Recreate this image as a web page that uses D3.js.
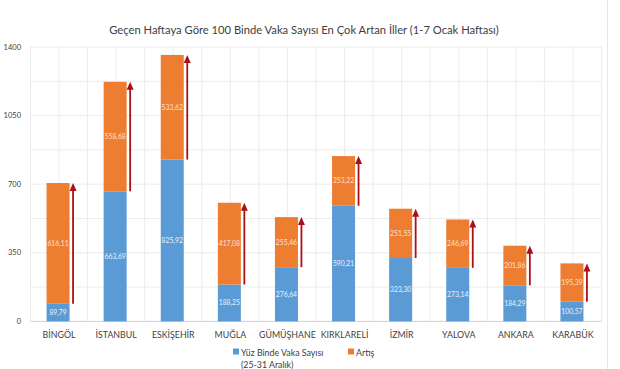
<!DOCTYPE html>
<html>
<head>
<meta charset="utf-8">
<script src="https://cdn.jsdelivr.net/npm/d3@7"></script>
<style>
  body { margin: 0; background: #fff; }
  text { font-family: Lato, "Open Sans", sans-serif; }
</style>
</head>
<body>
<div id="chart"></div>
<script>
const cities = ["BİNGÖL", "İSTANBUL", "ESKİŞEHİR", "MUĞLA", "GÜMÜŞHANE", "KIRKLARELİ", "İZMİR", "YALOVA", "ANKARA", "KARABÜK"];
const baseCases = [89.79, 663.69, 825.92, 188.25, 276.64, 590.21, 323.30, 273.14, 184.29, 100.57];
const increase = [616.11, 558.68, 533.62, 417.08, 255.46, 253.22, 251.55, 246.69, 201.86, 195.39];
const yTicks = [0, 350, 700, 1050, 1400];
const yGrid = [175, 525, 875, 1225];

const width = 620;
const height = 369;
const marginTop = 47;
const marginRight = 18.5;
const marginBottom = 47.6;
const marginLeft = 30.5;

const fmt = v => v.toFixed(2).replace(".", ",");

const x = d3.scaleBand(cities, [marginLeft, width - marginRight]).padding(0);
const y = d3.scaleLinear([0, 1400], [height - marginBottom, marginTop]);

const svg = d3.create("svg")
  .attr("width", width)
  .attr("height", height)
  .attr("viewBox", [0, 0, width, height]);

d3.select("#chart").append(() => svg.node());

// chart area right border
svg.append("line")
  .attr("x1", 607.5).attr("x2", 607.5)
  .attr("y1", 0).attr("y2", height)
  .attr("stroke", "#e6e6e6");

// title
svg.append("text")
  .attr("x", 304)
  .attr("y", 34)
  .attr("text-anchor", "middle")
  .attr("font-size", 11.2)
  .attr("fill", "#404040")
  .text("Geçen Haftaya Göre 100 Binde Vaka Sayısı En Çok Artan İller (1-7 Ocak Haftası)");

// grid lines
const vLines = cities.flatMap(c => [x(c), x(c) + x.bandwidth() / 2]).concat([width - marginRight]);
svg.append("g")
  .selectAll("line")
  .data(vLines)
  .join("line")
  .attr("x1", d => d).attr("x2", d => d)
  .attr("y1", y(1400)).attr("y2", y(0))
  .attr("stroke", "#ececec");

svg.append("g")
  .selectAll("line")
  .data(yTicks.concat(yGrid))
  .join("line")
  .attr("x1", marginLeft).attr("x2", width - marginRight)
  .attr("y1", d => y(d)).attr("y2", d => y(d))
  .attr("stroke", d => d === 0 ? "#d0d0d0" : "#ececec");

// y axis labels
svg.append("g")
  .selectAll("text")
  .data(yTicks)
  .join("text")
  .attr("x", 21)
  .attr("y", d => y(d) + 2.5)
  .attr("text-anchor", "end")
  .attr("font-size", 7.5)
  .attr("fill", "#404040")
  .text(d => d);

const barW = 23;
const cx = c => x(c) + x.bandwidth() / 2 - 1;

const rows = cities.map((c, i) => ({ city: c, base: baseCases[i], inc: increase[i] }));

// blue segment
svg.append("g")
  .attr("fill", "#5b9bd5")
  .selectAll("rect")
  .data(rows)
  .join("rect")
  .attr("x", d => cx(d.city) - barW / 2)
  .attr("width", barW)
  .attr("y", d => y(d.base))
  .attr("height", d => y(0) - y(d.base));

// orange segment
svg.append("g")
  .attr("fill", "#ed7d31")
  .selectAll("rect")
  .data(rows)
  .join("rect")
  .attr("x", d => cx(d.city) - barW / 2)
  .attr("width", barW)
  .attr("y", d => y(d.base + d.inc))
  .attr("height", d => y(d.base) - y(d.base + d.inc));

// value labels
svg.append("g")
  .attr("font-size", 6.8)
  .attr("text-anchor", "middle")
  .selectAll("text")
  .data(rows.flatMap(d => [
    { city: d.city, mid: d.base / 2, v: d.base, fill: "#e8f0fa" },
    { city: d.city, mid: d.base + d.inc / 2, v: d.inc, fill: "#fbe2cf" }
  ]))
  .join("text")
  .attr("x", d => cx(d.city))
  .attr("y", d => y(d.mid) + 2.4)
  .attr("fill", d => d.fill)
  .text(d => fmt(d.v));

// arrows: from last week's value up to this week's total
const arrowX = d => cx(d.city) + 15;

svg.append("g")
  .selectAll("line")
  .data(rows)
  .join("line")
  .attr("x1", arrowX).attr("x2", arrowX)
  .attr("y1", d => y(d.base))
  .attr("y2", d => y(d.base + d.inc) + 7)
  .attr("stroke", "#a8111a")
  .attr("stroke-width", 1.8);

svg.append("g")
  .selectAll("path")
  .data(rows)
  .join("path")
  .attr("d", d => {
    const ax = arrowX(d), ay = y(d.base + d.inc);
    return `M${ax - 3.5},${ay + 8}L${ax},${ay}L${ax + 3.5},${ay + 8}Z`;
  })
  .attr("fill", "#a8111a");

// category labels
svg.append("g")
  .selectAll("text")
  .data(cities)
  .join("text")
  .attr("x", d => x(d) + x.bandwidth() / 2)
  .attr("y", 338)
  .attr("text-anchor", "middle")
  .attr("font-size", 8.8)
  .attr("fill", "#404040")
  .text(d => d);

// legend
const legend = svg.append("g").attr("font-size", 8.8).attr("fill", "#404040");
legend.append("rect").attr("x", 233).attr("y", 348.5).attr("width", 6).attr("height", 6).attr("fill", "#5b9bd5");
legend.append("text").attr("x", 241).attr("y", 355.5).text("Yüz Binde Vaka Sayısı");
legend.append("text").attr("x", 241).attr("y", 368).text("(25-31 Aralık)");
legend.append("rect").attr("x", 348).attr("y", 348.5).attr("width", 6).attr("height", 6).attr("fill", "#ed7d31");
legend.append("text").attr("x", 356).attr("y", 355.5).text("Artış");
</script>
</body>
</html>
